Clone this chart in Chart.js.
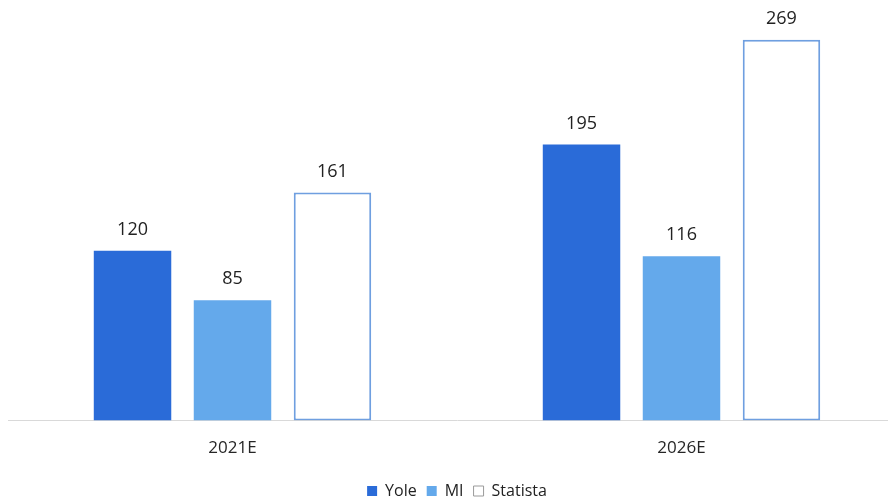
<!DOCTYPE html>
<html>
<head>
<meta charset="utf-8">
<script src="https://cdn.jsdelivr.net/npm/chart.js@4"></script>
<style>
  html, body { margin: 0; padding: 0; background: #fff; overflow: hidden; }
  #wrap { position: absolute; left: 0; top: 0; width: 906px; height: 500px; }
</style>
</head>
<body>
<div id="wrap"><canvas id="grafico"></canvas></div>
<script>
  // Dados
  const anos = ["2021E", "2026E"];
  const yole = [120, 195];
  const mi = [85, 116];
  const statista = [161, 269];

  const fonte = "'Open Sans', sans-serif";

  // Rótulos com o valor acima de cada barra
  const rotulos = {
    id: "rotulos",
    afterDatasetsDraw(chart) {
      const ctx = chart.ctx;
      ctx.save();
      ctx.font = "18px " + fonte;
      ctx.fillStyle = "#222";
      ctx.textAlign = "center";
      ctx.textBaseline = "bottom";
      chart.data.datasets.forEach((ds, i) => {
        chart.getDatasetMeta(i).data.forEach((bar, j) => {
          ctx.fillText(ds.data[j], bar.x, bar.y - 12);
        });
      });
      ctx.restore();
    }
  };

  new Chart(document.getElementById("grafico"), {
    type: "bar",
    data: {
      labels: anos,
      datasets: [
        { label: "Yole", data: yole, backgroundColor: "#2a6bd8", borderWidth: 0 },
        { label: "MI", data: mi, backgroundColor: "#64a9eb", borderWidth: 0 },
        { label: "Statista", data: statista, backgroundColor: "#ffffff", borderColor: "#6f9fe0", borderWidth: 2, borderSkipped: false }
      ]
    },
    options: {
      responsive: true,
      maintainAspectRatio: false,
      animation: false,
      layout: { padding: { left: 8, right: 0, top: 0, bottom: -9 } },
      datasets: { bar: { categoryPercentage: 0.668, barPercentage: 0.775 } },
      scales: {
        x: {
          grid: { display: false, drawTicks: false },
          border: { color: "#d9d9d9", width: 1 },
          ticks: { color: "#262626", font: { family: fonte, size: 17 }, padding: 17 },
          afterFit(scale) { scale.height -= 2; }
        },
        y: { display: false, min: 0, max: 297 }
      },
      plugins: {
        legend: {
          position: "bottom",
          labels: {
            boxWidth: 10, boxHeight: 10, padding: 10,
            color: "#222",
            font: { family: fonte, size: 16 },
            generateLabels(chart) {
              const itens = Chart.defaults.plugins.legend.labels.generateLabels(chart);
              itens[2].strokeStyle = "#9a9a9a";
              itens[2].lineWidth = 1;
              return itens;
            }
          }
        },
        tooltip: { enabled: false }
      }
    },
    plugins: [rotulos]
  });
</script>
</body>
</html>
